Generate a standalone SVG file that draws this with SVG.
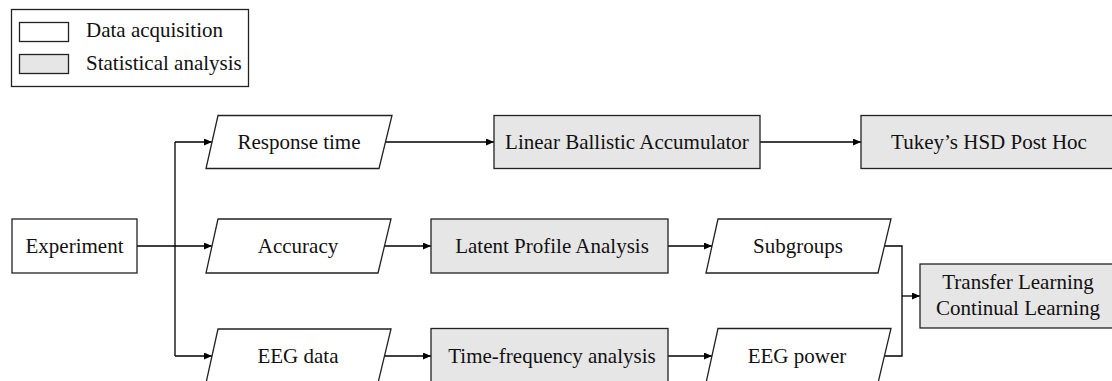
<svg xmlns="http://www.w3.org/2000/svg" width="1112" height="381" viewBox="0 0 1112 381">
<defs>
<marker id="ah" markerWidth="8" markerHeight="7" refX="8" refY="3.5" orient="auto" markerUnits="userSpaceOnUse"><path d="M0,0 L8,3.5 L0,7 z" fill="#000"/></marker>
<style>
.t{font-family:"Liberation Serif","Times New Roman",serif;font-size:21px;fill:#111;}
.c{text-anchor:middle;}
.w{fill:#fff;stroke:#222;stroke-width:1.3;}
.g{fill:#e6e6e6;stroke:#222;stroke-width:1.3;}
.l{fill:none;stroke:#000;stroke-width:1.3;}
</style>
</defs>
<rect width="1112" height="381" fill="#fff"/>
<g id="legend">
<rect x="11.5" y="9.5" width="237" height="77" fill="#fff" stroke="#222" stroke-width="1.3"/>
<rect class="w" x="19.5" y="22.5" width="49" height="19"/>
<rect class="g" x="19.5" y="54.5" width="49" height="19"/>
<text class="t" x="86" y="37">Data acquisition</text>
<text class="t" x="86" y="70">Statistical analysis</text>
</g>
<g id="connectors">
<path class="l" d="M137 246 H175" stroke-width="2.2"/>
<path class="l" d="M175 142 V356"/>
<path class="l" d="M175 142 H212" marker-end="url(#ah)"/>
<path class="l" d="M175 246 H212" marker-end="url(#ah)"/>
<path class="l" d="M175 356 H212" marker-end="url(#ah)"/>
<path class="l" d="M385.5 142 H494" marker-end="url(#ah)"/>
<path class="l" d="M760 142 H861" marker-end="url(#ah)"/>
<path class="l" d="M384.5 246 H431" marker-end="url(#ah)"/>
<path class="l" d="M668 246 H712" marker-end="url(#ah)"/>
<path class="l" d="M384.5 356 H431" marker-end="url(#ah)"/>
<path class="l" d="M668 356 H712" marker-end="url(#ah)"/>
<path class="l" d="M885 246 H902 V356 H885"/>
<path class="l" d="M902 296 H920" marker-end="url(#ah)"/>
</g>
<g id="experiment">
<rect class="w" x="12" y="219" width="125" height="54"/>
<text class="t c" x="74.5" y="253">Experiment</text>
</g>
<g id="response-time">
<polygon class="w" points="218,115.5 392,115.5 379,168.5 206,168.5"/>
<text class="t c" x="299" y="149">Response time</text>
</g>
<g id="accuracy">
<polygon class="w" points="218,219 391,219 378,273 206,273"/>
<text class="t c" x="298" y="253">Accuracy</text>
</g>
<g id="eeg-data">
<polygon class="w" points="218,329 391,329 378,383 206,383"/>
<text class="t c" x="298" y="363">EEG data</text>
</g>
<g id="lba">
<rect class="g" x="494" y="115.5" width="266" height="53"/>
<text class="t c" x="627" y="149">Linear Ballistic Accumulator</text>
</g>
<g id="tukey">
<rect class="g" x="861" y="115.5" width="256" height="53"/>
<text class="t c" x="989" y="149">Tukey’s HSD Post Hoc</text>
</g>
<g id="lpa">
<rect class="g" x="431" y="219" width="237" height="54"/>
<text class="t c" x="552" y="253">Latent Profile Analysis</text>
</g>
<g id="tfa">
<rect class="g" x="431" y="328.5" width="237" height="56"/>
<text class="t c" x="552" y="363">Time-frequency analysis</text>
</g>
<g id="subgroups">
<polygon class="w" points="718,219 891,219 878,273 706,273"/>
<text class="t c" x="798" y="253">Subgroups</text>
</g>
<g id="eeg-power">
<polygon class="w" points="718,328.5 891,328.5 878,383 706,383"/>
<text class="t c" x="797" y="363">EEG power</text>
</g>
<g id="transfer">
<rect class="g" x="920" y="264" width="197" height="64"/>
<text class="t c" x="1018" y="289">Transfer Learning</text>
<text class="t c" x="1018" y="315">Continual Learning</text>
</g>
</svg>
